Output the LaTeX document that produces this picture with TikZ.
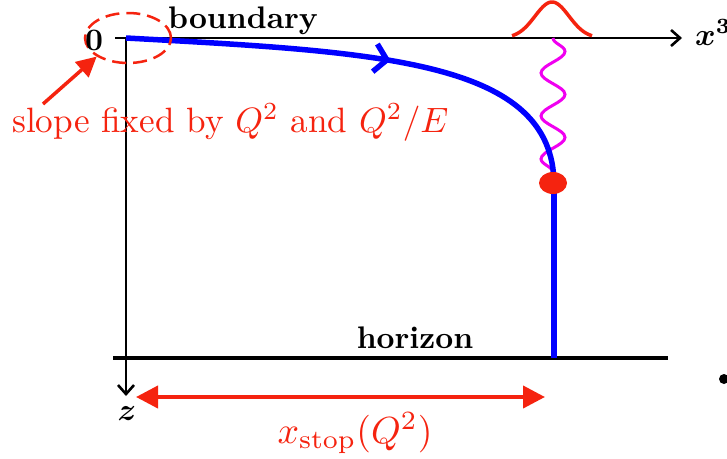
\documentclass[tikz,border=0pt]{standalone}
\usepackage{amsmath,bm,graphicx}
\usetikzlibrary{arrows.meta,decorations.pathmorphing,decorations.markings,shapes.geometric}
\definecolor{myred}{RGB}{245,35,15}
\definecolor{myblue}{RGB}{0,0,255}
\definecolor{mymag}{RGB}{240,0,240}
\begin{document}
\begin{tikzpicture}[x=1pt,y=-1pt,
  axis/.style={line width=2.6pt,black},
  barb/.style={-{Straight Barb[length=9pt,width=16pt]}},
  lbl/.style={inner sep=0pt},
  redtxt/.style={text=myred,inner sep=0pt},
  dotnode/.style={ellipse,fill=myred,minimum width=28pt,minimum height=22pt,inner sep=0pt},
  dashell/.style={ellipse,draw=myred,line width=2.5pt,dash pattern=on 14pt off 7pt,minimum width=86pt,minimum height=50pt,inner sep=0pt}]
\useasboundingbox (0,0) rectangle (727,458);
% coordinates
\coordinate (O) at (126,38);
\coordinate (xstart) at (115,38);
\coordinate (xend) at (682,38);
\coordinate (zend) at (126,396);
\coordinate (hl) at (113,358);
\coordinate (hr) at (668,358);
\coordinate (bend) at (554,185);
\coordinate (bbot) at (554,358);
\coordinate (wtop) at (553,38);
\coordinate (wbot) at (553,176);
\coordinate (astart) at (43,104);
\coordinate (al) at (136,397);
\coordinate (ar) at (545,397);
% axes
\draw[axis,barb] (xstart) -- (xend);
\draw[axis,barb] (O) -- (zend);
\draw[line width=4pt] (hl) -- (hr);
% gaussian bump
\draw[myred,line width=3.5pt] plot[domain=-40:40,samples=60,smooth] ({552+\x},{38-36*exp(-0.5*(\x/17)*(\x/17))});
% wavy line
\draw[mymag,line width=3pt,decorate,decoration={snake,segment length=43pt,amplitude=12pt}] (wtop) -- (wbot);
% blue string
\draw[myblue,line width=5.5pt,postaction={decorate},
  decoration={markings,mark=at position 0.54 with {\arrow{Straight Barb[length=12pt,width=28pt]}}}]
  (O) .. controls (380,52) and (554,60) .. (bend);
\draw[myblue,line width=5.5pt] (bend) -- (bbot);
\node[dotnode] (dot) at (553,183) {};
% dashed ellipse + arrow
\node[dashell] (ell) at (128,38) {};
\draw[myred,line width=3.5pt,-{Triangle[length=20pt,width=20pt]}] (astart) -- (ell.south west);
% double arrow
\draw[myred,line width=4pt,{Triangle[length=22pt,width=22pt]}-{Triangle[length=22pt,width=22pt]}] (al) -- (ar);
% labels
\node[lbl,anchor=base] (bnd) at (243,28) {\scalebox{3.12}{\bfseries boundary}};
\node[lbl,anchor=base] (hor) at (415,348) {\scalebox{3.12}{\bfseries horizon}};
\node[lbl,anchor=base] (zero) at (94,50) {\scalebox{3.12}{\bfseries 0}};
\node[lbl,anchor=base] (zl) at (127,420) {\scalebox{3.12}{$\bm{z}$}};
\node[lbl,anchor=base west] (xl) at (695,45) {\scalebox{3.12}{$\bm{x^3}$}};
\node[redtxt,anchor=base west] (slope) at (12,132) {\scalebox{3.52}{slope fixed by $Q^2$ and $Q^2/E$}};
\node[redtxt,anchor=base] (xs) at (355,443) {\scalebox{3.77}{$x_{\text{stop}}(Q^2)$}};
\fill (724,379) circle (5pt) node (bullet) {};
\end{tikzpicture}
\end{document}
